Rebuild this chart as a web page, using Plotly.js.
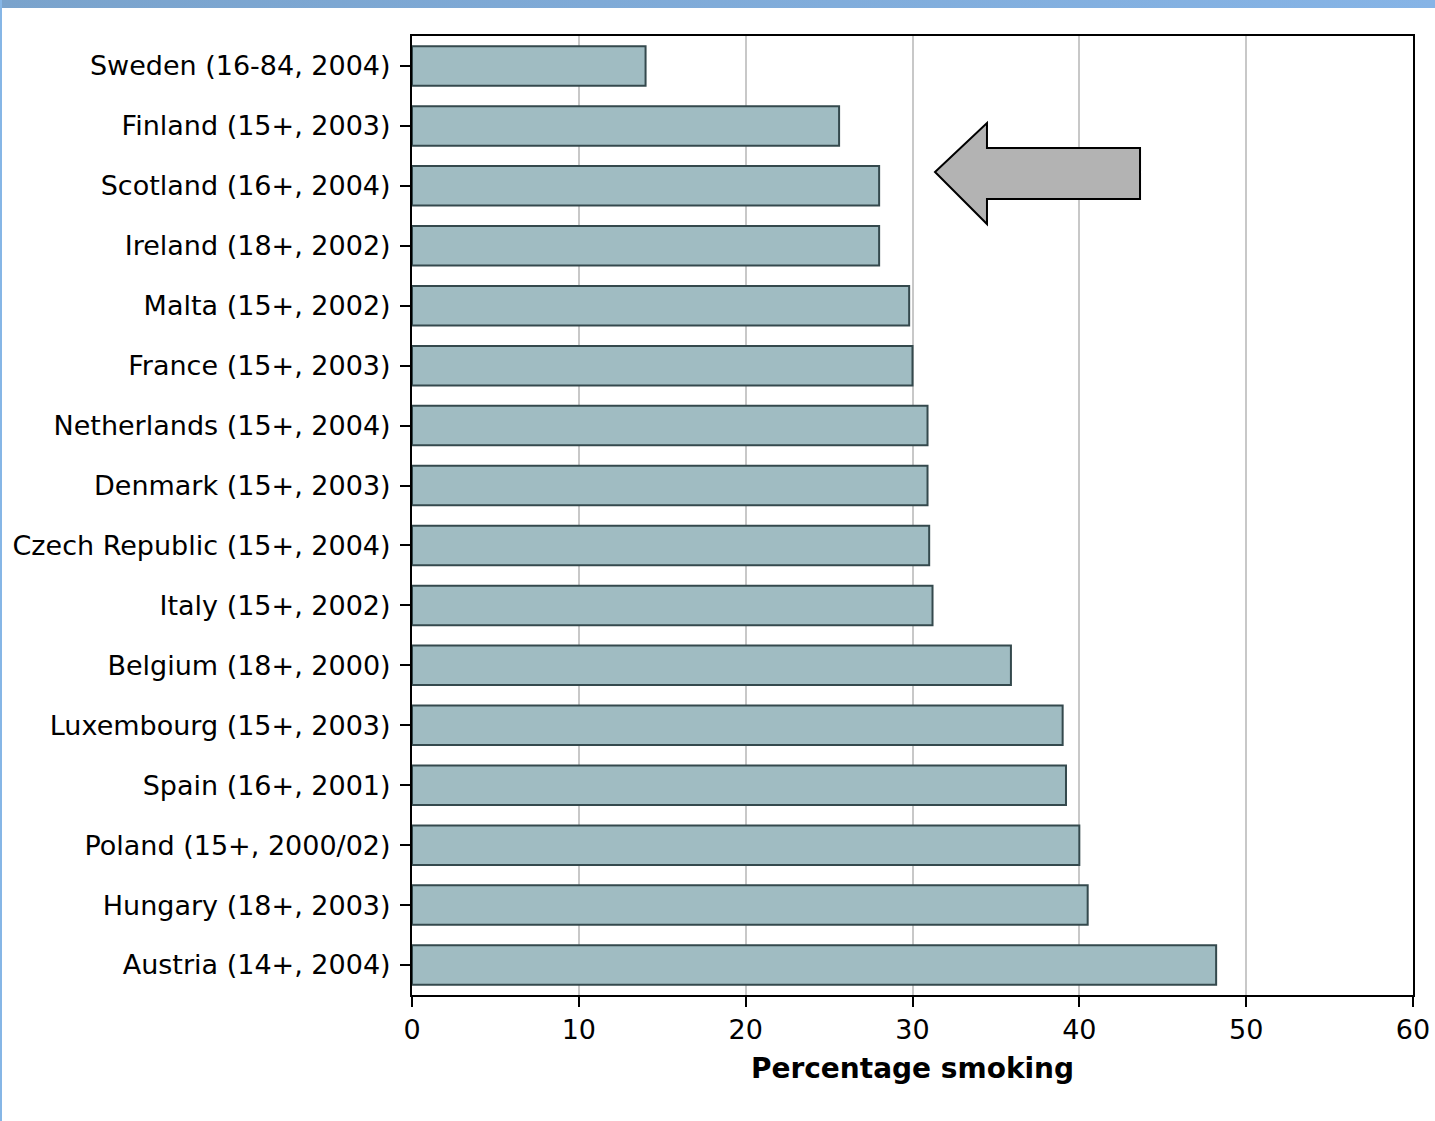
<!DOCTYPE html>
<html>
<head>
<meta charset="utf-8">
<script src="https://cdn.plot.ly/plotly-3.0.1.min.js"></script>
<style>
  html, body { margin: 0; padding: 0; background: #ffffff; }
  #wrap { position: relative; width: 1435px; height: 1121px; overflow: hidden; }
  #chart { position: absolute; left: 0; top: 0; width: 1435px; height: 1121px; }
  #topband { position: absolute; left: 0; top: 0; width: 1435px; height: 8px;
             background: linear-gradient(to right, #7aa3cc, #86b4e6); z-index: 5; }
  #leftband { position: absolute; left: 0; top: 0; width: 2px; height: 1121px;
              background: #86b6e6; z-index: 5; }
</style>
</head>
<body>
<div id="wrap">
  <div id="chart"></div>
  <div id="topband"></div>
  <div id="leftband"></div>
</div>
<script>
const countries = [
  "Sweden (16-84, 2004)",
  "Finland (15+, 2003)",
  "Scotland (16+, 2004)",
  "Ireland (18+, 2002)",
  "Malta (15+, 2002)",
  "France (15+, 2003)",
  "Netherlands (15+, 2004)",
  "Denmark (15+, 2003)",
  "Czech Republic (15+, 2004)",
  "Italy (15+, 2002)",
  "Belgium (18+, 2000)",
  "Luxembourg (15+, 2003)",
  "Spain (16+, 2001)",
  "Poland (15+, 2000/02)",
  "Hungary (18+, 2003)",
  "Austria (14+, 2004)"
];
const smokingPct = [14.0, 25.6, 28.0, 28.0, 29.8, 30.0, 30.9, 30.9, 31.0, 31.2, 35.9, 39.0, 39.2, 40.0, 40.5, 48.2];
const xTicks = [0, 10, 20, 30, 40, 50, 60];
const xTitle = "Percentage smoking";

const font = "DejaVu Sans, Verdana, sans-serif";

const trace = {
  type: "bar",
  orientation: "h",
  y: countries,
  x: smokingPct,
  width: 0.66,
  marker: { color: "#a0bcc2", line: { color: "#34494d", width: 2 } },
  hoverinfo: "x+y"
};

const layout = {
  width: 1435,
  height: 1121,
  margin: { l: 412, r: 22, t: 36, b: 126, pad: 0 },
  paper_bgcolor: "#ffffff",
  plot_bgcolor: "#ffffff",
  showlegend: false,
  font: { family: font, size: 27, color: "#000000" },
  xaxis: {
    range: [0, 60],
    tickvals: xTicks,
    ticktext: xTicks.map(String),
    showgrid: true,
    gridcolor: "#c8c8c8",
    gridwidth: 2,
    zeroline: false,
    showline: true,
    linecolor: "#000000",
    linewidth: 2,
    mirror: true,
    ticks: "outside",
    ticklen: 10,
    tickwidth: 2,
    tickcolor: "#000000",
    tickfont: { family: font, size: 27, color: "#000000" },
    title: { text: "<b>" + xTitle + "</b>", font: { family: font, size: 28, color: "#000000" }, standoff: 14 },
    fixedrange: true
  },
  yaxis: {
    type: "category",
    autorange: "reversed",
    showgrid: false,
    zeroline: false,
    showline: true,
    linecolor: "#000000",
    linewidth: 2,
    mirror: true,
    ticks: "outside",
    ticklen: 10,
    tickwidth: 2,
    tickcolor: "#000000",
    ticklabelstandoff: 4,
    tickfont: { family: font, size: 27, color: "#000000" },
    fixedrange: true
  },
  shapes: [
    {
      type: "path",
      xref: "paper",
      yref: "paper",
      path: "M 0.5225 0.8582 L 0.5744 0.9093 L 0.5744 0.8832 L 0.7273 0.8832 L 0.7273 0.8300 L 0.5744 0.8300 L 0.5744 0.8040 Z",
      fillcolor: "#b3b3b3",
      line: { color: "#000000", width: 2 },
      layer: "above"
    }
  ],
  bargap: 0.34
};

Plotly.newPlot("chart", [trace], layout, { displayModeBar: false, staticPlot: true });
</script>
</body>
</html>
